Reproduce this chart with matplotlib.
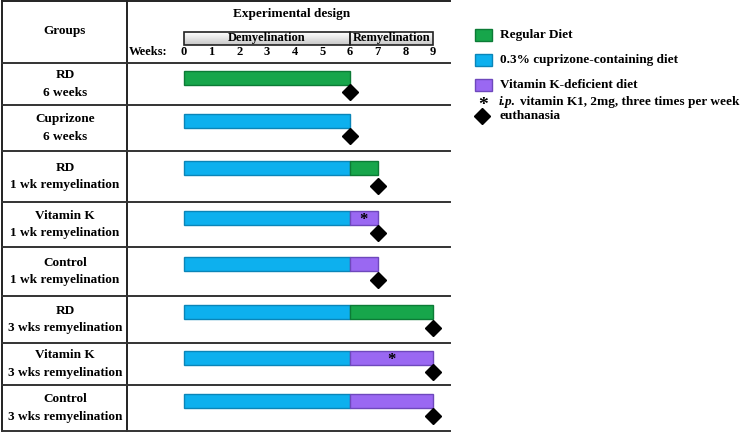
import numpy as np
import matplotlib.pyplot as plt
from matplotlib.patches import Rectangle

plt.rcParams['font.family'] = ['Liberation Serif', 'DejaVu Serif']
plt.rcParams['font.weight'] = 'bold'

# groups (two-line labels)
groups = ['RD\n6 weeks', 'Cuprizone\n6 weeks', 'RD\n1 wk remyelination',
          'Vitamin K\n1 wk remyelination', 'Control\n1 wk remyelination',
          'RD\n3 wks remyelination', 'Vitamin K\n3 wks remyelination',
          'Control\n3 wks remyelination']
# diet segments per group: (start week, end week, diet)
segments = [
    [(0, 6, 'RD')],
    [(0, 6, 'CPZ')],
    [(0, 6, 'CPZ'), (6, 7, 'RD')],
    [(0, 6, 'CPZ'), (6, 7, 'VK')],
    [(0, 6, 'CPZ'), (6, 7, 'VK')],
    [(0, 6, 'CPZ'), (6, 9, 'RD')],
    [(0, 6, 'CPZ'), (6, 9, 'VK')],
    [(0, 6, 'CPZ'), (6, 9, 'VK')],
]
vitk_injection = [False, False, False, True, False, False, True, False]
euthanasia = [6, 6, 7, 7, 7, 9, 9, 9]
weeks = list(range(10))
phases = [('Demyelination', 0, 6), ('Remyelination', 6, 9)]
legend_items = ['Regular Diet', '0.3% cuprizone-containing diet', 'Vitamin K-deficient diet']

colors = {'RD': '#17a64b', 'CPZ': '#0db0ee', 'VK': '#9a68f2'}
edges = {'RD': '#0c7b36', 'CPZ': '#0a85b8', 'VK': '#6e48bc'}

# table layout in pixels
row_edges = [63, 105, 151, 202, 247, 296, 343, 385, 431]
col_x = [2, 127, 450]

fig = plt.figure(figsize=(7.4, 4.33), dpi=100)
bg = fig.add_axes([0, 0, 1, 1])
bg.set_xlim(0, 740)
bg.set_ylim(433, 0)
bg.axis('off')

lw = 1.4
bg.plot([col_x[0], col_x[0]], [1, row_edges[-1]], color='#222', lw=lw)
bg.plot([col_x[1], col_x[1]], [1, row_edges[-1]], color='#222', lw=lw)
bg.plot([col_x[0], col_x[2]], [1, 1], color='#222', lw=lw)
for y in row_edges:
    bg.plot([col_x[0], col_x[2]], [y, y], color='#333', lw=lw)

bg.text(65, 31, 'Groups', ha='center', va='center', fontsize=9.5)
for i, g in enumerate(groups):
    yc = (row_edges[i] + row_edges[i + 1]) / 2
    bg.text(65, yc, g, ha='center', va='center', fontsize=9.5, linespacing=1.6)

bg.text(292, 14, 'Experimental design', ha='center', va='center', fontsize=9.5)
bg.text(167, 52, 'Weeks:', ha='right', va='center', fontsize=9)

# timeline axes in weeks
px_per_week = (433 - 184) / 9
x0 = (128 - 184) / px_per_week
x1 = (450 - 184) / px_per_week
tl = fig.add_axes([128 / 740, 0, (450 - 128) / 740, 1])

for w in weeks:
    tl.text(w, 52, str(w), ha='center', va='center', fontsize=9)
grad = np.linspace(1.0, 0.78, 20).reshape(-1, 1)
for name, a, b in phases:
    tl.imshow(grad, cmap='gray', vmin=0, vmax=1, extent=(a, b, 45, 32), aspect='auto', zorder=1)
    tl.add_patch(Rectangle((a, 32), b - a, 13, facecolor='none', edgecolor='#222', lw=1.2, zorder=2))
    tl.text((a + b) / 2, 38.5, name, ha='center', va='center', fontsize=9, zorder=3)

bar_h = 14
for i, segs in enumerate(segments):
    top = row_edges[i]
    h = row_edges[i + 1] - top
    yb = top + 0.2 * h
    for a, b, d in segs:
        tl.add_patch(Rectangle((a, yb), b - a, bar_h, facecolor=colors[d],
                               edgecolor=edges[d], lw=1))
        if d == 'VK' and vitk_injection[i]:
            tl.text((a + b) / 2, yb + bar_h / 2 + 2, '*', ha='center', va='center', fontsize=12)
    tl.plot(euthanasia[i], top + 0.68 * h, marker='D', color='black', markersize=8)

tl.set_xlim(x0, x1)
tl.set_ylim(433, 0)
tl.axis('off')

# legend
for k, (key, label) in enumerate(zip(['RD', 'CPZ', 'VK'], legend_items)):
    y = 35 + k * 25
    bg.add_patch(Rectangle((475, y - 6), 17, 12, facecolor=colors[key], edgecolor=edges[key], lw=1))
    bg.text(500, y, label, ha='left', va='center', fontsize=9.5)
bg.text(483, 106, '*', ha='center', va='center', fontsize=14)
bg.text(499, 102, 'i.p.', ha='left', va='center', fontsize=9.5, style='italic')
bg.text(520, 102, 'vitamin K1, 2mg, three times per week', ha='left', va='center', fontsize=9.5)
bg.plot(482, 116, marker='D', color='black', markersize=8)
bg.text(500, 116, 'euthanasia', ha='left', va='center', fontsize=9.5)

fig.savefig('out.png', dpi=100)
